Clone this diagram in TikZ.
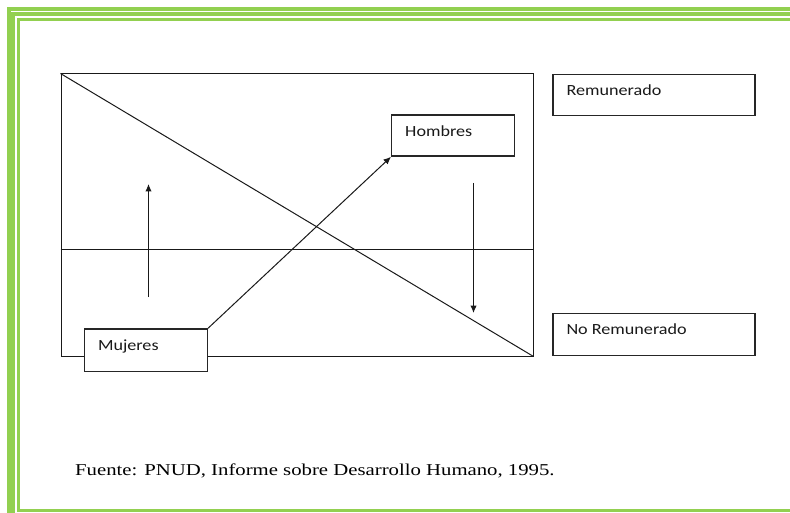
\documentclass[tikz,border=0pt]{standalone}
\usepackage{fontspec}
\setmainfont{Liberation Serif}
\newfontfamily\boxfont{Carlito}
\usetikzlibrary{arrows.meta,calc}
\definecolor{pagegreen}{HTML}{92D050}
\newcommand\widebox[1]{\scalebox{1.17}[1]{#1}}
\newcommand\widesrc[1]{\scalebox{1.25}[1]{#1}}
\tikzset{
  frameline/.style={draw=pagegreen,line width=3.6pt},
  lbox/.style={draw=black!85,line width=1.3pt,fill=white,rectangle,inner sep=0pt,anchor=north west},
  lbl/.style={font=\boxfont\fontsize{15.5}{18}\selectfont,inner sep=0pt,anchor=base west,text=black!90},
  thin/.style={draw=black!90,line width=1pt},
  arr/.style={thin,-{Latex[length=7.5pt,width=6.5pt]}}
}
\begin{document}
\begin{tikzpicture}[x=1pt,y=-1pt]
\useasboundingbox (0,0) rectangle (790,513);
% green page border
\draw[frameline,line cap=butt] (790,9.2) -- (8.7,9.2) -- (8.7,513);
\draw[frameline,line cap=butt] (790,14) -- (13.2,14) -- (13.2,513);
\draw[frameline,line cap=butt] (790,19.6) -- (18.6,19.6) -- (18.6,510.6) -- (790,510.6);
% main frame
\node[thin,rectangle,inner sep=0pt,minimum width=472pt,minimum height=282pt,anchor=north west] (frame) at (60.5,73.5) {};
\draw[thin] (frame.north west) -- (frame.south east);
\coordinate (hl) at (60.5,249.5);
\coordinate (hr) at (532.5,249.5);
\draw[thin] (hl) -- (hr);
% boxes
\node[lbox,minimum width=123pt,minimum height=41pt] (hom) at (391,114.5) {};
\node[lbl] (homt) at ($(hom.north west)+(14,22.5)$) {\widebox{Hombres}};
\node[lbox,minimum width=123pt,minimum height=42.5pt] (muj) at (83.8,328.2) {};
\node[lbl] (mujt) at ($(muj.north west)+(14,22)$) {\widebox{Mujeres}};
\node[lbox,minimum width=202pt,minimum height=41pt] (rem) at (552.3,74) {};
\node[lbl] (remt) at ($(rem.north west)+(14,22)$) {\widebox{Remunerado}};
\node[lbox,minimum width=202pt,minimum height=42pt] (norem) at (552.3,313) {};
\node[lbl] (noremt) at ($(norem.north west)+(14,21.5)$) {\widebox{No Remunerado}};
% arrows
\draw[arr] (muj.north east) -- (hom.south west);
\coordinate (ua1) at (148.5,297);
\coordinate (ua2) at (148.5,184);
\draw[arr] (ua1) -- (ua2);
\coordinate (da1) at (473.5,183);
\coordinate (da2) at (473.5,313);
\draw[arr] (da1) -- (da2);
% source
\node[font=\fontsize{16.6}{20}\selectfont,inner sep=0pt,anchor=base west] (src) at (75,475) {\widesrc{Fuente: PNUD, Informe sobre Desarrollo Humano, 1995.}};
\end{tikzpicture}
\end{document}
